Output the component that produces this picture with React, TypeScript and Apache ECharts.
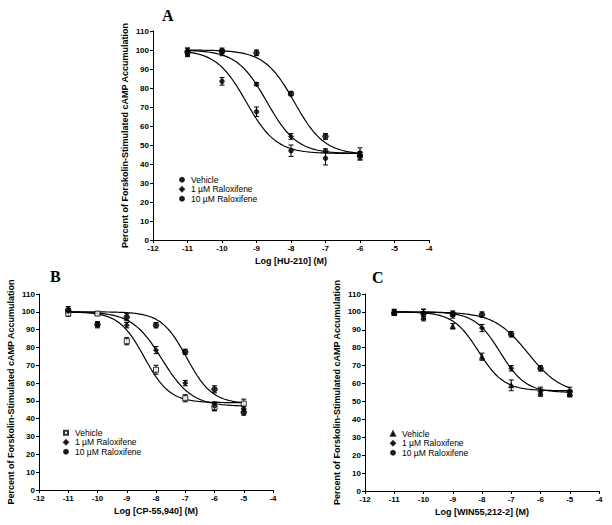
import React, { useEffect, useRef } from "react";
import * as echarts from "echarts";

// ---------- data ----------
const GROUPS = ["Vehicle", "1 µM Raloxifene", "10 µM Raloxifene"];

// Panel A: HU-210
const A_LOG = [-11, -10, -9, -8, -7, -6];
const A_VEH = [98, 83.5, 67.5, 47, 43, 44];
const A_VEH_ERR = [1.5, 2, 2.5, 3, 3.5, 2];
const A_R1 = [99.5, 98.5, 82, 54.5, 47, 46];
const A_R1_ERR = [1.5, 1.5, 0.8, 1.5, 1, 2.5];
const A_R10 = [99, 99.5, 98.5, 77, 54.5, 44.5];
const A_R10_ERR = [2, 1.5, 1.5, 1, 1.5, 2];
const A_FIT_BOTTOM = [45.5, 45.5, 45];
const A_FIT_EC50 = [-9.3, -8.7, -7.9];
const A_FIT_HILL = [1, 1, 1];

// Panel B: CP-55,940
const B_LOG = [-11, -10, -9, -8, -7, -6, -5];
const B_VEH = [99, 99, 83.5, 67.5, 51.5, 46.5, 48.5];
const B_VEH_ERR = [1.5, 1, 2, 2.5, 2, 2, 2.5];
const B_R1 = [100.5, 92.5, 92.5, 78.5, 60, 47, 45.5];
const B_R1_ERR = [1.5, 1.5, 1.5, 2, 1.5, 2.5, 1.5];
const B_R10 = [101, 93, 97, 92.5, 77.5, 56.5, 43.5];
const B_R10_ERR = [2, 1.5, 2, 1.5, 1.5, 2, 1.5];
const B_FIT_BOTTOM = [49, 47, 48.5];
const B_FIT_EC50 = [-8.4, -7.8, -6.95];
const B_FIT_HILL = [1, 0.85, 1];

// Panel C: WIN55,212-2
const C_LOG = [-11, -10, -9, -8, -7, -6, -5];
const C_VEH = [100, 97, 92, 75, 59, 55, 54.5];
const C_VEH_ERR = [1.5, 2, 1.5, 2, 3, 2, 1.5];
const C_R1 = [99.5, 99.5, 98, 91, 68.5, 55.5, 54];
const C_R1_ERR = [1.5, 2, 1.5, 2, 1.5, 2.5, 1.5];
const C_R10 = [99.5, 99, 99, 98.5, 87.5, 68.5, 55.5];
const C_R10_ERR = [1.5, 2.5, 1.5, 1.5, 1.5, 1.5, 2.5];
const C_FIT_BOTTOM = [56, 55, 54];
const C_FIT_EC50 = [-8.12, -7.38, -6.43];
const C_FIT_HILL = [1, 1, 0.75];

const FIT_TOP = 100;

const X_NAMES = ["Log [HU-210] (M)", "Log [CP-55,940] (M)", "Log [WIN55,212-2] (M)"];
const Y_NAME = "Percent of Forskolin-Stimulated cAMP Accumulation";
const PANEL_LABELS = ["A", "B", "C"];

// ---------- helpers ----------
const SANS = "Liberation Sans";
const SERIF = "Liberation Serif";

function fitCurve(bottom: number, ec50: number, hill: number, from: number, to: number) {
  const pts: number[][] = [];
  const steps = Math.round((to - from) / 0.05);
  for (let i = 0; i <= steps; i++) {
    const x = from + i * 0.05;
    const y = bottom + (FIT_TOP - bottom) / (1 + Math.pow(10, (x - ec50) * hill));
    pts.push([x, y]);
  }
  return pts;
}

function errorRender(params: any, api: any) {
  const x = api.value(0);
  const y = api.value(1);
  const e = api.value(2);
  const hi = api.coord([x, y + e]);
  const lo = api.coord([x, y - e]);
  const cap = 2.5;
  const style = { stroke: "#000", lineWidth: 1 };
  return {
    type: "group",
    children: [
      { type: "line", shape: { x1: hi[0], y1: hi[1], x2: lo[0], y2: lo[1] }, style },
      { type: "line", shape: { x1: hi[0] - cap, y1: hi[1], x2: hi[0] + cap, y2: hi[1] }, style },
      { type: "line", shape: { x1: lo[0] - cap, y1: lo[1], x2: lo[0] + cap, y2: lo[1] }, style },
    ],
  };
}

export default function App() {
  const ref = useRef<HTMLDivElement>(null);

  useEffect(() => {
    if (!ref.current) return;
    const chart = echarts.init(ref.current, undefined, { renderer: "svg" });

    const panels = [
      {
        key: "A",
        logs: A_LOG,
        vals: [A_VEH, A_R1, A_R10],
        errs: [A_VEH_ERR, A_R1_ERR, A_R10_ERR],
        bottom: A_FIT_BOTTOM, ec50: A_FIT_EC50, hill: A_FIT_HILL,
        range: [-11, -6],
        grid: { left: 153, top: 31, width: 276, height: 209 },
        vehSymbol: "circle", vehSize: 4.5, vehFill: "#000",
        legend: { left: 179, top: 175 },
        title: { left: 162, top: 7 },
      },
      {
        key: "B",
        logs: B_LOG,
        vals: [B_VEH, B_R1, B_R10],
        errs: [B_VEH_ERR, B_R1_ERR, B_R10_ERR],
        bottom: B_FIT_BOTTOM, ec50: B_FIT_EC50, hill: B_FIT_HILL,
        range: [-11, -5],
        grid: { left: 39, top: 294, width: 234, height: 196 },
        vehSymbol: "rect", vehSize: 5, vehFill: "#fff",
        legend: { left: 63, top: 428 },
        title: { left: 50, top: 268 },
      },
      {
        key: "C",
        logs: C_LOG,
        vals: [C_VEH, C_R1, C_R10],
        errs: [C_VEH_ERR, C_R1_ERR, C_R10_ERR],
        bottom: C_FIT_BOTTOM, ec50: C_FIT_EC50, hill: C_FIT_HILL,
        range: [-11, -5],
        grid: { left: 365, top: 294, width: 234, height: 197 },
        vehSymbol: "triangle", vehSize: 5, vehFill: "#000",
        legend: { left: 390, top: 429 },
        title: { left: 372, top: 269 },
      },
    ];

    const grids: any[] = [];
    const xAxes: any[] = [];
    const yAxes: any[] = [];
    const series: any[] = [];
    const legends: any[] = [];
    const titles: any[] = [];

    panels.forEach((p, pi) => {
      grids.push({ ...p.grid, containLabel: false });
      xAxes.push({
        type: "value",
        gridIndex: pi,
        min: -12,
        max: -4,
        interval: 1,
        name: X_NAMES[pi],
        nameLocation: "middle",
        nameGap: 16,
        nameTextStyle: { fontFamily: SANS, fontSize: 9, fontWeight: "bold", color: "#000" },
        axisLine: { onZero: false, lineStyle: { color: "#000", width: 1 } },
        axisTick: { show: true, inside: false, length: 3, lineStyle: { color: "#000" } },
        axisLabel: { fontFamily: SANS, fontSize: 8, fontWeight: "bold", color: "#000", margin: 4 },
        splitLine: { show: false },
      });
      yAxes.push({
        type: "value",
        gridIndex: pi,
        min: 0,
        max: 110,
        interval: 10,
        name: Y_NAME,
        nameLocation: "middle",
        nameGap: 24,
        nameTextStyle: { fontFamily: SANS, fontSize: 9, fontWeight: "bold", color: "#000" },
        axisLine: { onZero: false, lineStyle: { color: "#000", width: 1 } },
        axisTick: { show: true, inside: false, length: 3, lineStyle: { color: "#000" } },
        axisLabel: { fontFamily: SANS, fontSize: 8, fontWeight: "bold", color: "#000", margin: 4 },
        splitLine: { show: false },
      });

      const symbols = [p.vehSymbol, "diamond", "circle"];
      const sizes = [p.vehSize, 5, 5.5];
      const fills = [p.vehFill, "#000", "#000"];
      const names: string[] = [];

      GROUPS.forEach((g, gi) => {
        const nm = p.key + "|" + g;
        names.push(nm);
        series.push({
          type: "line",
          name: p.key + "-fit-" + gi,
          xAxisIndex: pi,
          yAxisIndex: pi,
          data: fitCurve(p.bottom[gi], p.ec50[gi], p.hill[gi], p.range[0], p.range[1]),
          showSymbol: false,
          symbol: "none",
          lineStyle: { color: "#000", width: 1.2 },
          silent: true,
          z: 2,
        });
        series.push({
          type: "custom",
          name: p.key + "-err-" + gi,
          xAxisIndex: pi,
          yAxisIndex: pi,
          renderItem: errorRender,
          data: p.logs.map((x, i) => [x, p.vals[gi][i], p.errs[gi][i]]),
          encode: { x: 0, y: 1 },
          silent: true,
          z: 3,
        });
        series.push({
          type: "scatter",
          name: nm,
          xAxisIndex: pi,
          yAxisIndex: pi,
          data: p.logs.map((x, i) => [x, p.vals[gi][i]]),
          symbol: symbols[gi],
          symbolSize: sizes[gi],
          itemStyle: { color: fills[gi], borderColor: "#000", borderWidth: 1 },
          z: 4,
        });
      });

      legends.push({
        data: names,
        orient: "vertical",
        left: p.legend.left,
        top: p.legend.top,
        itemWidth: 4,
        itemHeight: 4,
        itemGap: 0,
        padding: 0,
        selectedMode: false,
        formatter: (n: string) => n.split("|")[1],
        textStyle: { fontFamily: SANS, fontSize: 8.5, color: "#000", lineHeight: 9.5, padding: [0, 0, 0, 2] },
      });

      titles.push({
        text: PANEL_LABELS[pi],
        left: p.title.left,
        top: p.title.top,
        padding: 0,
        textStyle: { fontFamily: SERIF, fontSize: 16, fontWeight: "bold", color: "#000" },
      });
    });

    chart.setOption({
      animation: false,
      backgroundColor: "#fff",
      title: titles,
      grid: grids,
      xAxis: xAxes,
      yAxis: yAxes,
      legend: legends,
      series,
    });

    return () => chart.dispose();
  }, []);

  return (
    <div
      ref={ref}
      style={{ position: "absolute", left: 0, top: 0, width: 612, height: 525, background: "#fff" }}
    />
  );
}
